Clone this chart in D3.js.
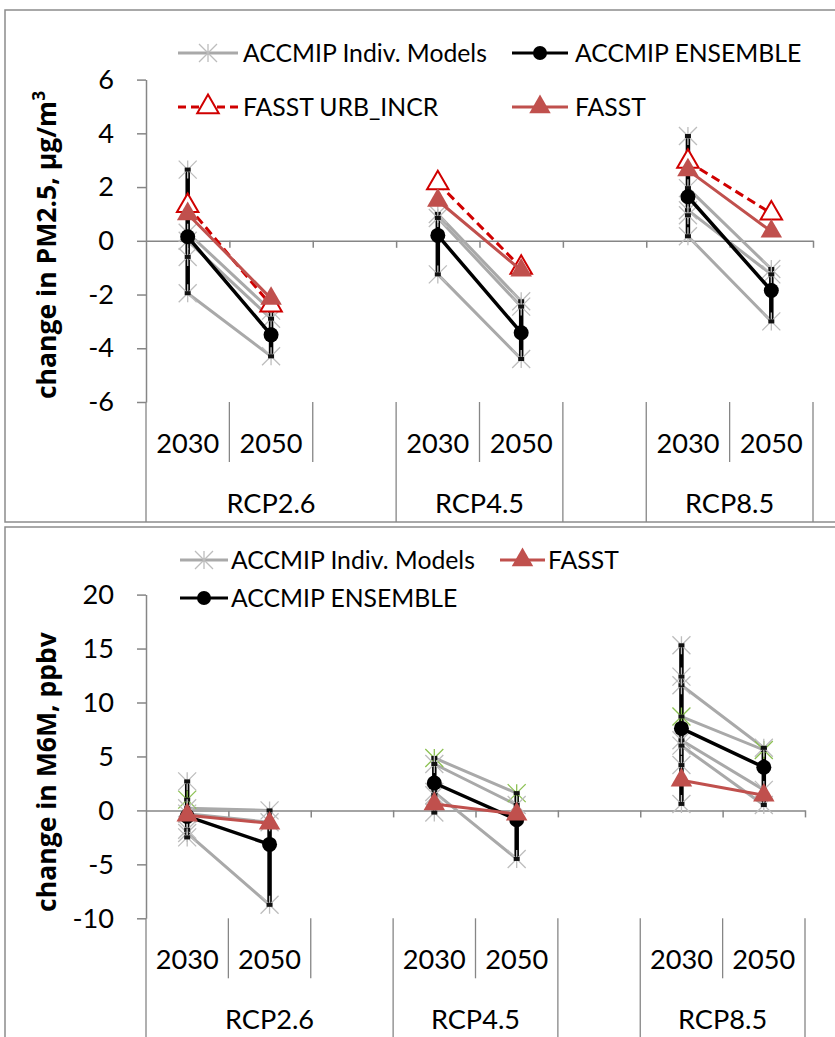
<!DOCTYPE html>
<html><head><meta charset="utf-8">
<script src="https://cdn.jsdelivr.net/npm/d3@7"></script>
<style>body{margin:0;background:#fff}svg{display:block}</style>
</head><body>
<svg id="c" width="835" height="1037"></svg>
<script>
// ---------- DATA ----------
const categories = ["2030","2050","","2030","2050","","2030","2050"];
const groupLabels = ["RCP2.6","RCP4.5","","RCP8.5"];
const groupSpans = [3,2,1,2];

// Panel 1: change in PM2.5
const pmTicks = [-6,-4,-2,0,2,4,6];
const pmModels = [
  [0.3,-2.6,null,1.0,-2.25,null,1.96,-1.05],
  [0.0,-2.9,null,0.85,-2.45,null,1.14,-1.25],
  [-1.95,-4.3,null,-1.25,-4.4,null,0.17,-3.0],
  [2.65,null,null,null,null,null,3.9,null],
  [-0.6,null,null,null,null,null,0.95,null]
];
const pmModelGreen = [false,false,false,false,false];
const pmEnsemble = [0.15,-3.5,null,0.2,-3.42,null,1.64,-1.85];
const pmFasst = [1.0,-2.15,null,1.5,-1.1,null,2.63,0.35];
const pmFasstUrb = [1.3,-2.4,null,2.15,-1.0,null,2.95,1.02];

// Panel 2: change in M6M
const m6mTicks = [-10,-5,0,5,10,15,20];
const m6mModels = [
  [1.0,null,null,4.86,1.6,null,8.7,5.6],
  [0.2,0.0,null,4.3,0.5,null,11.6,5.8],
  [-2.1,-8.75,null,1.7,-4.5,null,6.5,1.9],
  [2.69,null,null,null,null,null,15.3,null],
  [-1.8,null,null,1.4,null,null,12.4,null],
  [-2.5,null,null,-0.2,null,null,0.6,null],
  [-0.3,-1.1,null,null,null,null,6.0,0.5],
  [null,null,null,null,null,null,4.2,null]
];
const m6mModelGreen = [true,false,false,false,false,false,false,false];
const m6mEnsemble = [-0.55,-3.15,null,2.54,-0.86,null,7.6,4.0];
const m6mFasst = [-0.45,-1.2,null,0.6,-0.35,null,2.8,1.4];

// ---------- STYLE ----------
const FONT = "Lato, 'Open Sans', sans-serif";
const TFONT = "'Open Sans', 'Liberation Sans', Arial, sans-serif";
const AXIS = "#868686", FRAME = "#8c8c8c";
const GRAY = "#a9a9a9", STAR = "#bdbdbd", GREEN = "#8cc152";
const RED = "#c0504d", DRED = "#d00000";

const svg = d3.select("#c");
function fitSize(text, family, weight, target){
  const t = svg.append("text").attr("font-family",family).attr("font-weight",weight).attr("font-size",40).text(text);
  const w = t.node().getComputedTextLength(); t.remove();
  return 40*target/w;
}
const labelSize = fitSize("2030", FONT, 400, 63);
const legendSize = fitSize("ACCMIP Indiv. Models", FONT, 400, 244);
const titleSize = fitSize("change in M6M, ppbv", TFONT, 700, 280);

const starPath = r => `M${-r},${-r}L${r},${r}M${-r},${r}L${r},${-r}M0,${-r}L0,${r}`;
const triSym = d3.symbol(d3.symbolTriangle).size(200);

function drawStar(g, x, y, green){
  g.append("path").attr("d", starPath(9)).attr("transform",`translate(${x},${y})`)
   .attr("fill","none").attr("stroke", green?GREEN:STAR).attr("stroke-width",1.3);
}

function legendItem(g, type, x0, x1, ty, tx, label){
  const xm = (x0+x1)/2;
  const l = g.append("line").attr("x1",x0).attr("x2",x1).attr("y1",ty).attr("y2",ty).attr("stroke-width",3);
  if (type==="model"){ l.attr("stroke",GRAY); drawStar(g,xm,ty,false); }
  if (type==="ens"){ l.attr("stroke","#000"); g.append("circle").attr("cx",xm).attr("cy",ty).attr("r",7).attr("fill","#000"); }
  if (type==="urb"){ l.attr("stroke",DRED).attr("stroke-dasharray","8,5");
    g.append("path").attr("d",triSym()).attr("transform",`translate(${xm},${ty})`).attr("fill","#fff").attr("stroke",DRED).attr("stroke-width",2); }
  if (type==="fasst"){ l.attr("stroke",RED);
    g.append("path").attr("d",triSym()).attr("transform",`translate(${xm},${ty})`).attr("fill",RED); }
  g.append("text").attr("x",tx).attr("y",ty).attr("dy","0.35em").attr("font-family",FONT)
   .attr("font-size",legendSize).attr("fill","#000").text(label);
}

function drawPanel(cfg){
  const g = svg.append("g");
  g.append("rect").attr("x",5).attr("y",cfg.top).attr("width",900).attr("height",cfg.bottom-cfg.top)
   .attr("fill","#fff").attr("stroke",FRAME).attr("stroke-width",1.5);
  const n = categories.length;
  const x = d3.scaleBand().domain(d3.range(n)).range([cfg.x0,cfg.x1]);
  const xb = d3.scaleLinear().domain([0,n]).range([cfg.x0,cfg.x1]);
  const y = d3.scaleLinear().domain(d3.extent(cfg.ticks)).range([cfg.yBottom,cfg.yTop]);
  const cx = i => x(i)+x.bandwidth()/2;

  // y axis
  const ya = g.append("g").attr("transform",`translate(${cfg.x0},0)`)
    .call(d3.axisLeft(y).tickValues(cfg.ticks).tickSize(9).tickSizeOuter(0).tickPadding(23).tickFormat(d=>String(d)));
  ya.select(".domain").attr("stroke",AXIS).attr("stroke-width",1.5);
  ya.selectAll(".tick line").attr("stroke",AXIS).attr("stroke-width",1.5);
  ya.selectAll(".tick text").attr("font-family",FONT).attr("font-size",labelSize).attr("fill","#000");

  // zero category axis
  const xa = g.append("g").attr("transform",`translate(0,${y(0)})`)
    .call(d3.axisBottom(xb).tickValues(d3.range(1,n+1)).tickSize(7).tickSizeOuter(0).tickFormat(""));
  xa.select(".domain").attr("stroke",AXIS).attr("stroke-width",1.5);
  xa.selectAll(".tick line").attr("stroke",AXIS).attr("stroke-width",1.5);

  // category label area
  const lblTop = cfg.yBottom;
  const bounds = new Set([0]); let acc = 0; groupSpans.forEach(s=>{acc+=s; bounds.add(acc);});
  for (let b=0;b<=n;b++){
    g.append("line").attr("x1",xb(b)).attr("x2",xb(b)).attr("y1",lblTop)
     .attr("y2", bounds.has(b) ? cfg.bottom : lblTop+60).attr("stroke",AXIS).attr("stroke-width",1.3);
  }
  categories.forEach((c,i)=>{
    g.append("text").attr("x",cx(i)).attr("y",lblTop+41).attr("dy","0.35em").attr("text-anchor","middle")
     .attr("font-family",FONT).attr("font-size",labelSize).text(c);
  });
  acc = 0;
  groupSpans.forEach((s,k)=>{
    const xm = (xb(acc)+xb(acc+s))/2; acc+=s;
    g.append("text").attr("x",xm).attr("y",lblTop+101).attr("dy","0.35em").attr("text-anchor","middle")
     .attr("font-family",FONT).attr("font-size",labelSize).text(groupLabels[k]);
  });

  // y title
  const tt = g.append("text").attr("transform",`translate(47,${cfg.titleY}) rotate(-90)`)
    .attr("text-anchor","middle").attr("dy","0.35em").attr("font-family",TFONT).attr("font-weight",700)
    .attr("font-size",titleSize).text(cfg.title);
  if (cfg.titleSup){ tt.append("tspan").attr("baseline-shift","super").attr("font-size",titleSize*0.65).text(cfg.titleSup); }

  const line = d3.line().defined(d=>d!=null).x((d,i)=>cx(i)).y(d=>y(d));
  const pts = arr => arr.map((v,i)=>({v,i})).filter(d=>d.v!=null);

  // individual model lines
  cfg.models.forEach(m=>{
    g.append("path").attr("d",line(m)).attr("fill","none").attr("stroke",GRAY).attr("stroke-width",3);
  });
  // error bars (min-max of models)
  d3.range(n).forEach(i=>{
    const vals = cfg.models.map(m=>m[i]).filter(v=>v!=null);
    if (vals.length<2) return;
    g.append("line").attr("x1",cx(i)).attr("x2",cx(i)).attr("y1",y(d3.min(vals))).attr("y2",y(d3.max(vals)))
     .attr("stroke","#000").attr("stroke-width",4.5);
  });
  // model markers
  cfg.models.forEach((m,k)=>{
    pts(m).forEach(d=>drawStar(g,cx(d.i),y(d.v),cfg.green[k]));
    pts(m).forEach(d=>g.append("rect").attr("x",cx(d.i)-3).attr("y",y(d.v)-2).attr("width",6).attr("height",4).attr("fill","#111"));
  });
  // ensemble
  g.append("path").attr("d",line(cfg.ensemble)).attr("fill","none").attr("stroke","#000").attr("stroke-width",3.5);
  g.selectAll(null).data(pts(cfg.ensemble)).join("circle").attr("cx",d=>cx(d.i)).attr("cy",d=>y(d.v)).attr("r",7.5).attr("fill","#000");
  // FASST URB_INCR
  if (cfg.urb){
    g.append("path").attr("d",line(cfg.urb)).attr("fill","none").attr("stroke",DRED).attr("stroke-width",3).attr("stroke-dasharray","9,5");
    g.selectAll(null).data(pts(cfg.urb)).join("path").attr("d",triSym())
     .attr("transform",d=>`translate(${cx(d.i)},${y(d.v)})`).attr("fill","#fff").attr("stroke",DRED).attr("stroke-width",2);
  }
  // FASST
  g.append("path").attr("d",line(cfg.fasst)).attr("fill","none").attr("stroke",RED).attr("stroke-width",3);
  g.selectAll(null).data(pts(cfg.fasst)).join("path").attr("d",triSym())
   .attr("transform",d=>`translate(${cx(d.i)},${y(d.v)})`).attr("fill",RED);

  // legend
  cfg.legend.forEach(L=>legendItem(g, ...L));
}

drawPanel({
  top:10, bottom:522, x0:146, x1:813, yTop:79.6, yBottom:402, ticks:pmTicks,
  models:pmModels, green:pmModelGreen, ensemble:pmEnsemble, fasst:pmFasst, urb:pmFasstUrb,
  title:"change in PM2.5, µg/m", titleSup:"3", titleY:245,
  legend:[
    ["model",178,238,53,243,"ACCMIP Indiv. Models"],
    ["ens",512,568,53,575,"ACCMIP ENSEMBLE"],
    ["urb",178,238,107,243,"FASST URB_INCR"],
    ["fasst",512,568,107,575,"FASST"]
  ]
});
drawPanel({
  top:527, bottom:1060, x0:146, x1:805, yTop:594.6, yBottom:918.3, ticks:m6mTicks,
  models:m6mModels, green:m6mModelGreen, ensemble:m6mEnsemble, fasst:m6mFasst, urb:null,
  title:"change in M6M, ppbv", titleSup:null, titleY:772,
  legend:[
    ["model",180,228,560,231,"ACCMIP Indiv. Models"],
    ["fasst",500,545,560,548,"FASST"],
    ["ens",180,228,598,231,"ACCMIP ENSEMBLE"]
  ]
});
</script>
</body></html>
